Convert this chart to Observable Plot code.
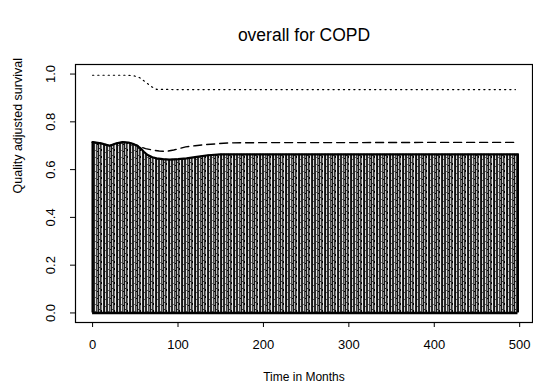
<!DOCTYPE html>
<html>
<head>
<meta charset="utf-8">
<script src="https://cdn.jsdelivr.net/npm/d3@7"></script>
<script src="https://cdn.jsdelivr.net/npm/@observablehq/plot@0.6"></script>
<style>
  html, body { margin: 0; padding: 0; background: #fff; }
  svg { font-family: "Liberation Sans", Arial, sans-serif; }
</style>
</head>
<body>
<div id="chart"></div>
<script>
// Months (x) and survival curves
const solidT = [0, 10, 20, 28, 35, 42, 47, 52, 56, 60, 64, 70, 75, 82, 90, 100, 110, 122, 135, 150, 200, 300, 400, 498];
const solidV = [0.715, 0.71, 0.70, 0.71, 0.715, 0.713, 0.708, 0.70, 0.69, 0.675, 0.662, 0.652, 0.647, 0.644, 0.642, 0.644, 0.647, 0.653, 0.66, 0.664, 0.664, 0.664, 0.664, 0.664];

const dashT = [0, 10, 20, 28, 35, 42, 47, 52, 56, 62, 70, 78, 86, 95, 109, 120, 132, 145, 160, 200, 300, 400, 498];
const dashV = [0.715, 0.71, 0.70, 0.71, 0.715, 0.713, 0.708, 0.702, 0.695, 0.688, 0.682, 0.678, 0.676, 0.682, 0.695, 0.70, 0.705, 0.708, 0.712, 0.713, 0.713, 0.714, 0.714];

const dotT = [0, 20, 40, 48, 55, 60, 65, 70, 75, 100, 200, 300, 400, 495];
const dotV = [0.995, 0.995, 0.995, 0.993, 0.985, 0.972, 0.958, 0.945, 0.936, 0.935, 0.935, 0.935, 0.935, 0.935];

const xTicks = [0, 100, 200, 300, 400, 500];
const yTicks = [0, 0.2, 0.4, 0.6, 0.8, 1.0];

const titleText = "overall for COPD";
const xLabel = "Time in Months";
const yLabel = "Quality adjusted survival";

const solid = solidT.map((t, i) => ({t, v: solidV[i]}));
const dashed = dashT.map((t, i) => ({t, v: dashV[i]}));
const dotted = dotT.map((t, i) => ({t, v: dotV[i]}));
const tMax = solidT[solidT.length - 1];

const plot = Plot.plot({
  width: 533,
  height: 387,
  marginLeft: 75,
  marginRight: 1,
  marginTop: 64,
  marginBottom: 65,
  style: {fontFamily: "'Liberation Sans', Arial, sans-serif", background: "#fff", color: "#000"},
  x: {domain: [-20, 515], label: null},
  y: {domain: [-0.04, 1.04], label: null},
  marks: [
    Plot.areaY(solid, {x: "t", y1: 0, y2: "v", fill: "url(#hatch)", curve: "linear"}),
    Plot.line(solid, {x: "t", y: "v", stroke: "#000", strokeWidth: 2.2}),
    Plot.ruleY([0], {x1: 0, x2: tMax, stroke: "#000", strokeWidth: 2.5}),
    Plot.ruleX([0], {y1: 0, y2: solidV[0], stroke: "#000", strokeWidth: 2.2}),
    Plot.ruleX([tMax], {y1: 0, y2: solidV[solidV.length - 1], stroke: "#000", strokeWidth: 2}),
    Plot.line(dashed, {x: "t", y: "v", stroke: "#000", strokeWidth: 1.4, strokeDasharray: "8,5"}),
    Plot.line(dotted, {x: "t", y: "v", stroke: "#000", strokeWidth: 1.2, strokeDasharray: "1.2,4"}),
    Plot.frame({stroke: "#000", strokeWidth: 1.2}),
    Plot.axisX(xTicks, {ticks: xTicks, tickSize: 5, tickPadding: 12, fontSize: 13, stroke: "#000", label: null}),
    Plot.axisY(yTicks, {ticks: yTicks, tickSize: 5, tickRotate: -90, tickPadding: 16, fontSize: 13, tickFormat: d3.format(".1f"), stroke: "#000", label: null}),
    Plot.text([titleText], {frameAnchor: "top", dy: -36, fontSize: 17.5, fill: "#000"}),
    Plot.text([xLabel], {frameAnchor: "bottom", dy: 58, fontSize: 12, fill: "#000"}),
    Plot.text([yLabel], {frameAnchor: "left", dx: -58, rotate: -90, fontSize: 12.5, fill: "#000"})
  ]
});

const defs = `<defs>
<pattern id="hatch" patternUnits="userSpaceOnUse" width="13" height="7">
  <rect x="0" y="0" width="13" height="7" fill="#a0a0a0"/>
  <rect x="0" y="0" width="1" height="7" fill="#111"/>
  <rect x="1" y="0" width="1" height="7" fill="#d8d8d8"/>
  <rect x="2" y="0" width="2" height="7" fill="#2a2a2a"/>
  <rect x="4" y="0" width="1" height="7" fill="#e4e4e4"/>
  <rect x="5" y="0" width="1" height="7" fill="#444"/>
  <rect x="6" y="0" width="1" height="7" fill="#8a8a8a"/>
  <rect x="7" y="0" width="1" height="7" fill="#151515"/>
  <rect x="8" y="0" width="1" height="7" fill="#c4c4c4"/>
  <rect x="9" y="0" width="1" height="7" fill="#333"/>
  <rect x="10" y="0" width="1" height="7" fill="#777"/>
  <rect x="11" y="0" width="1" height="7" fill="#eee"/>
  <rect x="12" y="0" width="1" height="7" fill="#222"/>
  <rect x="10" y="2" width="1" height="2" fill="#000"/>
  <rect x="6" y="4" width="1" height="1" fill="#000"/>
  <rect x="1" y="5" width="1" height="1" fill="#555"/>
  <rect x="8" y="1" width="1" height="1" fill="#333"/>
  <rect x="4" y="3" width="1" height="1" fill="#666"/>
</pattern></defs>`;
plot.insertAdjacentHTML("afterbegin", defs);
document.getElementById("chart").appendChild(plot);
</script>
</body>
</html>
